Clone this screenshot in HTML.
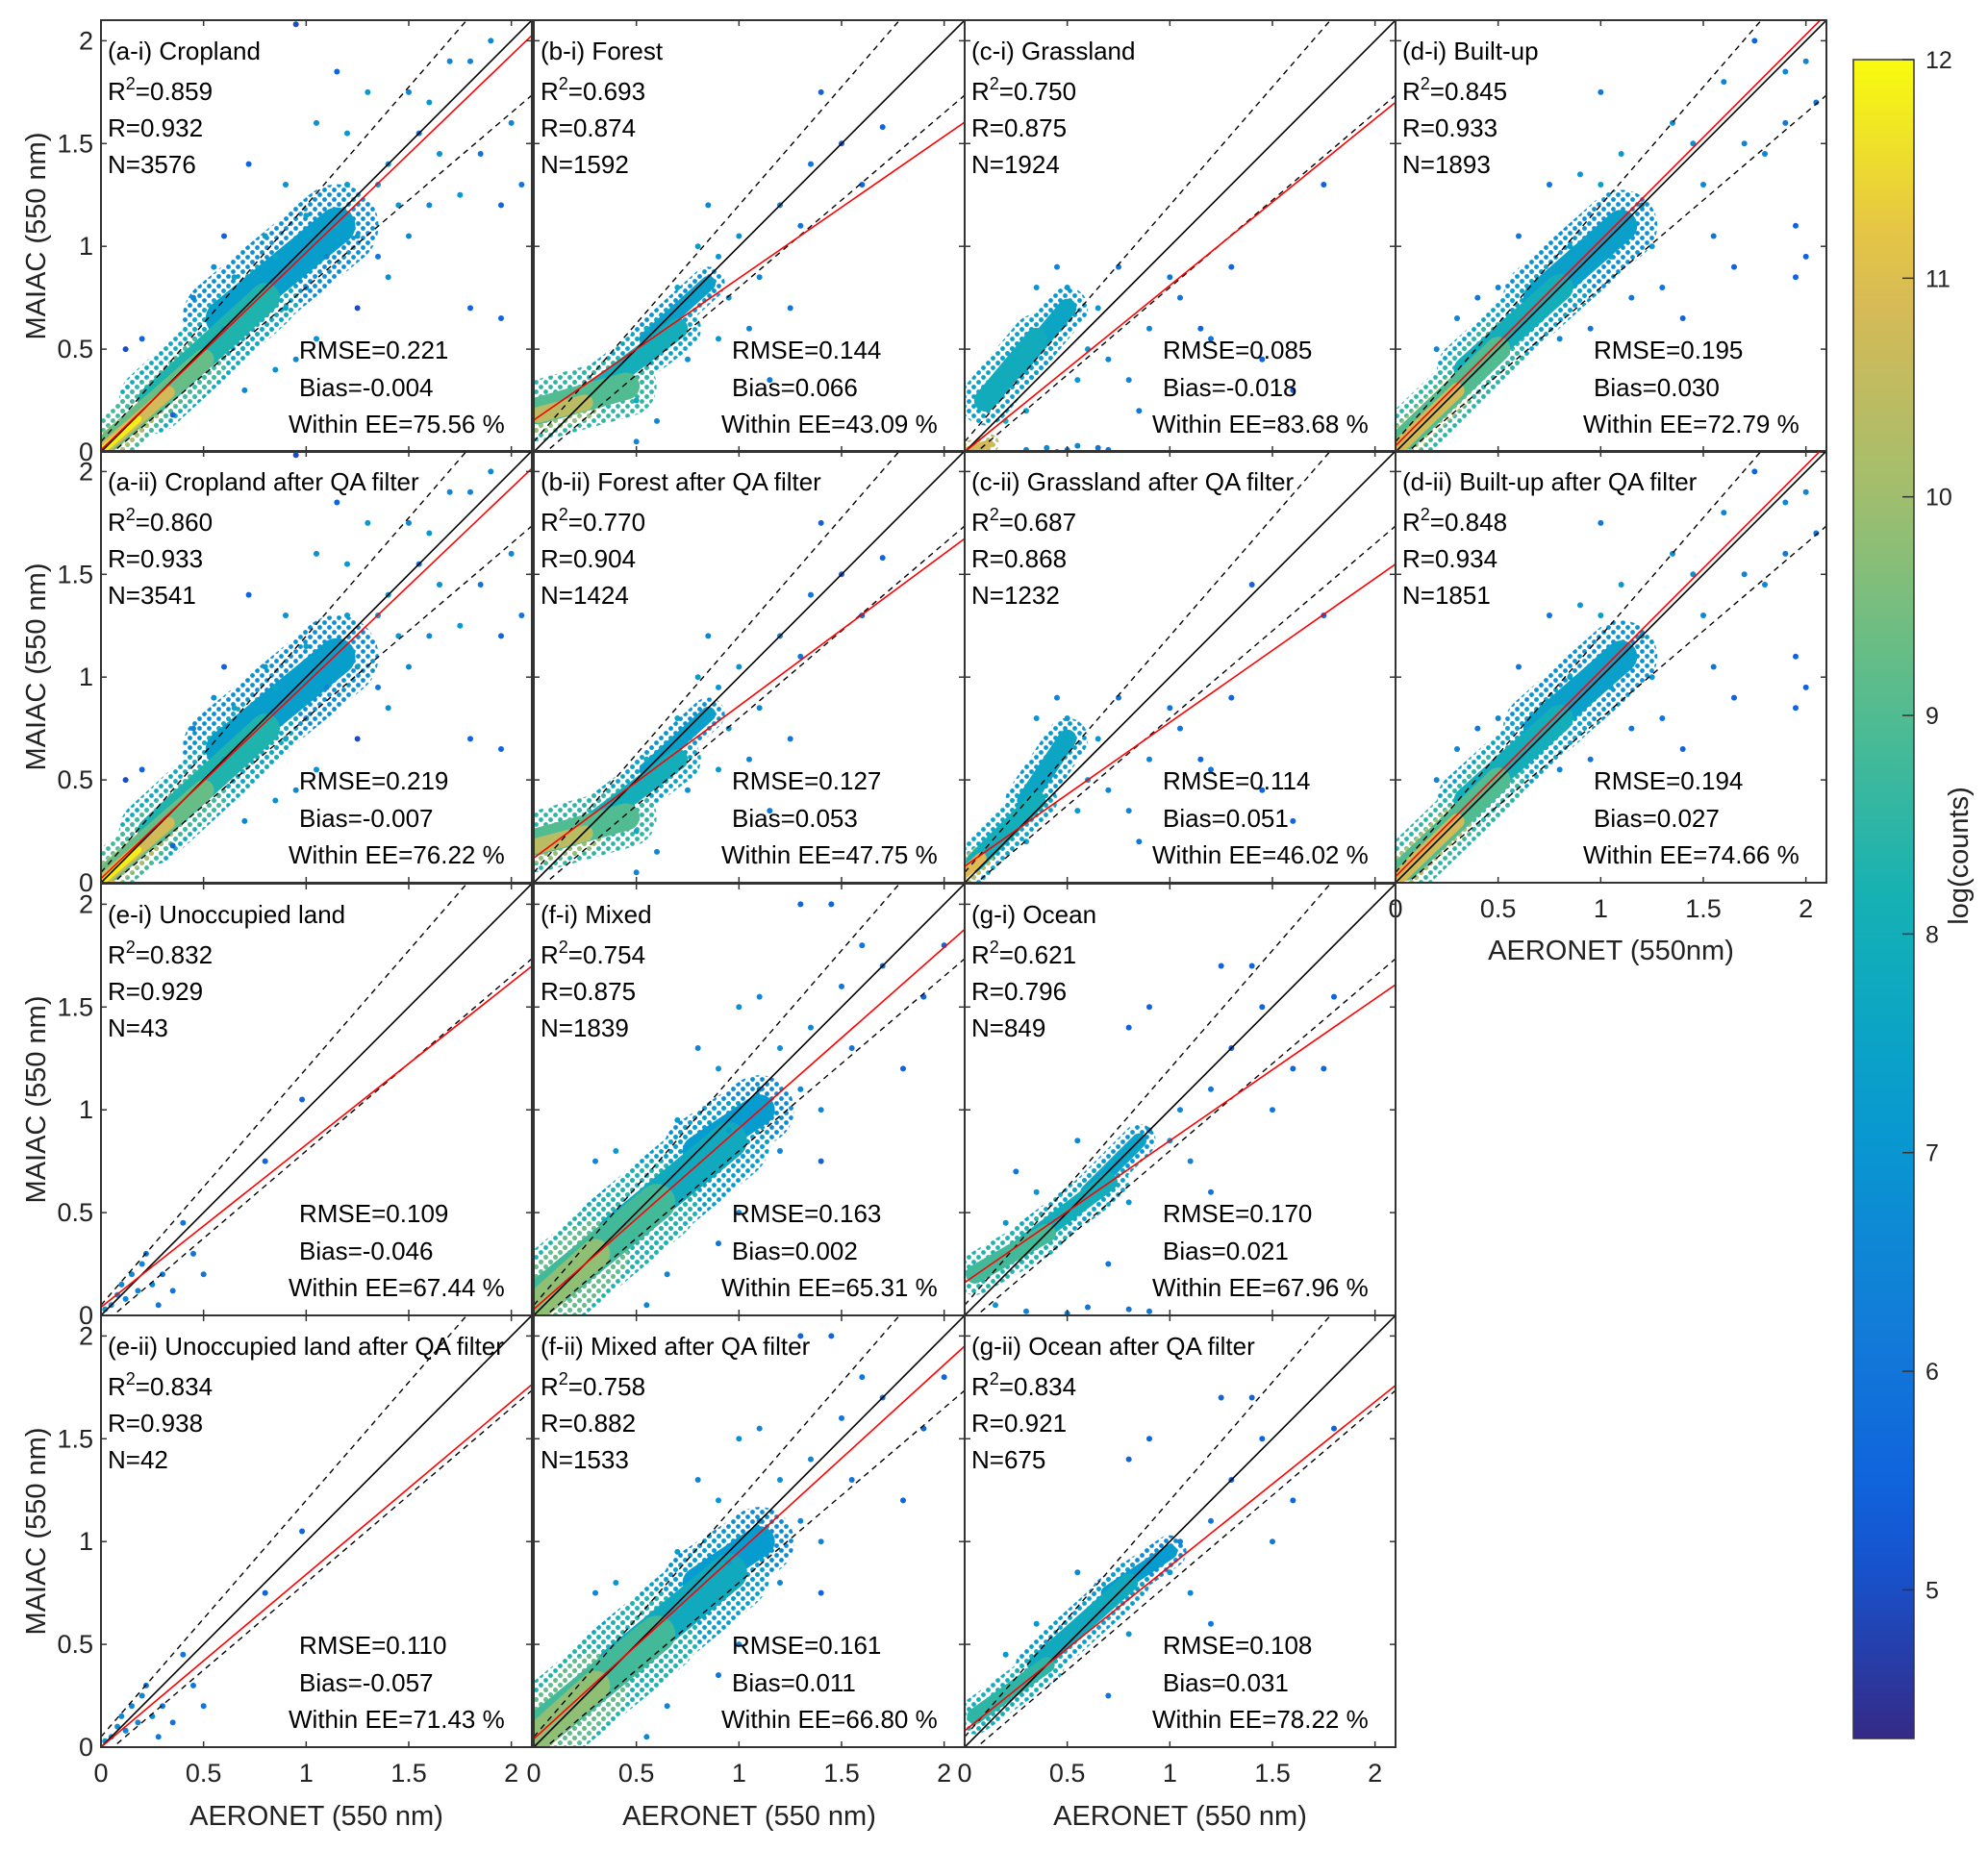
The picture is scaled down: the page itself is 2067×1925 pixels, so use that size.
<!DOCTYPE html>
<html><head><meta charset="utf-8">
<style>
html,body{margin:0;padding:0;background:#fff;}
svg{display:block;font-family:"Liberation Sans",Arial,sans-serif;}
</style></head>
<body>
<svg id="fig" width="2067" height="1925" viewBox="0 0 2067 1925" xmlns="http://www.w3.org/2000/svg"></svg>
<script>
// ---------- data ----------
const panelTitles = ["(a-i) Cropland","(b-i) Forest","(c-i) Grassland","(d-i) Built-up",
 "(a-ii) Cropland after QA filter","(b-ii) Forest after QA filter","(c-ii) Grassland after QA filter","(d-ii) Built-up after QA filter",
 "(e-i) Unoccupied land","(f-i) Mixed","(g-i) Ocean",
 "(e-ii) Unoccupied land after QA filter","(f-ii) Mixed after QA filter","(g-ii) Ocean after QA filter"];
const r2Values = ["0.859","0.693","0.750","0.845","0.860","0.770","0.687","0.848","0.832","0.754","0.621","0.834","0.758","0.834"];
const rValues = ["0.932","0.874","0.875","0.933","0.933","0.904","0.868","0.934","0.929","0.875","0.796","0.938","0.882","0.921"];
const nValues = ["3576","1592","1924","1893","3541","1424","1232","1851","43","1839","849","42","1533","675"];
const rmseValues = ["0.221","0.144","0.085","0.195","0.219","0.127","0.114","0.194","0.109","0.163","0.170","0.110","0.161","0.108"];
const biasValues = ["-0.004","0.066","-0.018","0.030","-0.007","0.053","0.051","0.027","-0.046","0.002","0.021","-0.057","0.011","0.031"];
const eeValues = ["75.56","43.09","83.68","72.79","76.22","47.75","46.02","74.66","67.44","65.31","67.96","71.43","66.80","78.22"];
const fitSlopes = [0.96,0.69,0.81,1.0,0.95,0.74,0.70,1.0,0.79,0.88,0.69,0.84,0.91,0.80];
const fitIntercepts = [0.01,0.155,0.0,0.03,0.02,0.12,0.08,0.03,0.04,0.03,0.16,0.0,0.04,0.08];
const ticks = [0,0.5,1,1.5,2];
const tickLabels = ["0","0.5","1","1.5","2"];
const cbTicks = [5,6,7,8,9,10,11,12];

// density bands [x0,y0,x1,y1,width,logcount]
const coreA = [[0.6,0.65,1.15,1.1,0.3,7.3],[0.25,0.25,0.8,0.75,0.24,8.3],[0.05,0.06,0.5,0.45,0.17,9.3],[0.03,0.03,0.33,0.29,0.1,10.8],[0.02,0.02,0.18,0.16,0.06,11.8]];
const coreB = [[0.55,0.55,0.85,0.82,0.12,7.4],[0.3,0.3,0.7,0.6,0.17,8],[0.02,0.2,0.45,0.32,0.22,9],[0.02,0.18,0.25,0.24,0.13,10.4]];
const coreC = [[0.25,0.4,0.5,0.7,0.15,7.6],[0.1,0.25,0.35,0.55,0.18,7.9],[0.0,0.0,0.12,0.04,0.07,10.8]];
const coreC2 = [[0.3,0.4,0.5,0.7,0.15,7.6],[0.05,0.1,0.35,0.4,0.15,8],[0.0,0.05,0.08,0.12,0.09,11]];
const coreD = [[0.7,0.75,1.1,1.1,0.26,7.4],[0.35,0.4,0.8,0.8,0.22,8],[0.05,0.07,0.5,0.5,0.2,9],[0.03,0.04,0.3,0.3,0.12,10.8]];
const coreE = [];
const coreF = [[0.8,0.8,1.1,1.0,0.25,7.2],[0.4,0.4,0.95,0.85,0.3,7.8],[0.05,0.1,0.6,0.55,0.3,8.8],[0.02,0.05,0.3,0.3,0.24,9.8]];
const coreG = [[0.6,0.6,0.85,0.85,0.12,7.5],[0.3,0.35,0.7,0.65,0.15,8],[0.05,0.2,0.4,0.4,0.15,8.8]];
const coreG2 = [[0.7,0.75,1.0,0.95,0.12,7.2],[0.35,0.4,0.8,0.8,0.15,7.8],[0.05,0.15,0.4,0.4,0.13,8.5]];

// scattered points [x,y,logcount]
const ptsA = [[0.95,2.08,5],[1.15,1.85,5.5],[0.72,1.4,5.5],[0.6,1.05,5.5],[1.55,1.55,6],[1.7,1.9,6.5],[1.8,1.9,6.5],[1.9,2.0,6.5],[2.0,1.6,6.5],[1.85,1.45,6],[1.95,1.2,5.5],[2.05,1.3,6],[1.6,1.2,6.5],[1.5,1.05,6.5],[1.35,0.95,6],[1.25,0.7,5],[1.1,0.95,6.5],[1.0,0.8,6.5],[0.9,1.3,6.8],[1.05,1.6,6.8],[1.3,1.75,7],[1.4,1.4,7],[1.2,1.3,7.2],[1.6,1.7,7],[1.75,1.25,7],[1.45,1.2,7.2],[0.55,0.9,6.8],[0.45,0.75,6.5],[0.2,0.55,5.5],[0.12,0.5,5],[0.7,0.3,6.5],[0.85,0.4,6.8],[1.05,0.55,6.8],[0.95,0.45,6.5],[1.4,0.85,6.8],[1.8,0.7,5.5],[1.95,0.65,5.5],[0.35,0.18,5.5],[0.6,0.6,7.5],[0.8,1.05,7.3],[1.0,1.15,7.5],[1.15,1.1,7.5],[0.65,0.85,7.5],[0.9,0.7,7.5],[1.25,1.05,7.3],[1.35,1.3,7.2],[1.65,1.45,6.8],[1.5,1.75,6.5],[1.2,1.55,7],[0.85,0.95,7.6]];
const ptsB = [[0.9,0.95,7],[1.0,1.05,6.8],[0.95,0.75,7],[1.1,0.85,6.5],[1.2,1.2,6.5],[1.3,1.1,6],[1.5,1.5,5.5],[1.7,1.58,5.5],[1.35,1.4,6],[0.85,1.2,6.5],[1.05,0.6,6.5],[1.25,0.7,6],[0.75,0.45,6.8],[0.6,0.15,6.5],[0.5,0.05,6.5],[0.8,1.0,7.2],[0.7,0.8,7.5],[0.55,0.6,7.8],[0.9,0.55,7],[1.4,1.75,5.5],[1.6,1.3,5.5],[1.15,0.35,6],[0.45,0.45,8],[0.5,0.25,7.8]];
const ptsC = [[0.3,0.01,6.5],[0.4,0.02,6.5],[0.5,0.01,6],[0.55,0.03,6.5],[0.65,0.02,6],[0.7,0.01,6],[0.45,0.0,6],[0.5,0.8,7],[0.6,0.5,7],[0.7,0.45,6.5],[0.8,0.35,6.5],[0.9,0.6,6.5],[1.0,0.85,6],[1.05,0.75,6],[1.15,0.6,5.5],[1.2,0.55,6],[0.55,0.35,7],[0.65,0.7,7],[0.75,0.9,6],[0.45,0.9,6.5],[0.35,0.8,7],[0.3,0.2,7.5],[0.2,0.15,8],[1.45,0.45,5.5],[1.6,0.3,5.5],[0.85,0.2,6],[1.3,0.9,5.5],[1.75,1.3,5.5]];
const ptsC2 = [[0.5,0.8,7],[0.6,0.5,7],[0.7,0.45,6.5],[0.8,0.35,6.5],[0.9,0.6,6.5],[1.0,0.85,6],[1.05,0.75,6],[1.15,0.6,5.5],[1.2,0.55,6],[0.55,0.35,7],[0.65,0.7,7],[0.75,0.9,6],[0.45,0.9,6.5],[0.35,0.8,7],[0.3,0.2,7.5],[1.45,0.45,5.5],[1.6,0.3,5.5],[0.85,0.2,6],[1.3,0.9,5.5],[1.75,1.3,5.5],[1.4,1.45,5.5]];
const ptsD = [[0.9,1.35,7],[1.0,1.3,7.2],[1.1,1.45,7],[1.2,1.2,7.2],[1.25,1.0,7],[1.35,1.6,6.8],[1.45,1.5,6.8],[1.5,1.3,6.5],[1.6,1.8,6.5],[1.7,1.5,6.5],[1.8,1.45,6.5],[1.9,1.85,6.5],[2.0,1.9,6.5],[2.05,1.7,6],[1.95,1.1,5.5],[1.9,1.6,6],[1.55,1.05,6],[1.3,0.8,6],[1.15,0.75,6],[0.95,0.6,6],[0.8,0.55,6.5],[0.6,1.05,6],[0.5,0.8,6.5],[0.4,0.75,6],[0.3,0.65,6.5],[0.2,0.5,6.5],[0.75,1.3,6],[1.0,1.75,6],[1.75,2.0,5.5],[1.95,0.85,5.5],[2.0,0.95,5.5],[1.4,0.65,5.5],[1.65,0.9,5.5],[0.85,1.0,7.4],[1.05,0.95,7.4]];
const ptsE = [[0.02,0.03,7],[0.05,0.05,7],[0.08,0.1,6.8],[0.1,0.15,6.5],[0.12,0.08,6.5],[0.15,0.2,6.5],[0.18,0.12,6.5],[0.2,0.25,6.5],[0.22,0.3,6],[0.25,0.15,6.5],[0.3,0.2,6],[0.35,0.12,6],[0.4,0.45,6],[0.5,0.2,6],[0.8,0.75,5.5],[0.98,1.05,5.5],[0.45,0.3,6],[0.28,0.05,6]];
const ptsF = [[1.2,1.3,6.8],[1.3,1.1,6.5],[1.35,1.4,6.5],[1.4,1.0,6.5],[1.5,1.6,6],[1.55,1.3,6],[1.6,1.8,6],[1.7,1.7,6],[1.8,1.2,5.5],[1.3,2.0,5.5],[1.1,1.55,6.5],[1.0,1.5,6.8],[0.9,1.2,7],[0.8,1.3,6.5],[1.0,0.5,6.5],[1.2,0.8,6.5],[1.4,0.75,5.5],[0.7,0.95,7.2],[0.65,0.2,6.5],[0.55,0.05,6.5],[0.9,0.35,6],[1.9,1.55,5.5],[2.0,1.8,5.5],[1.45,2.0,5.5],[0.4,0.8,7],[0.3,0.75,6.5],[1.1,1.1,7],[0.95,0.9,7.2]];
const ptsG = [[0.9,0.9,7],[1.0,0.85,7],[1.05,1.0,6.5],[1.1,0.75,6.5],[1.2,1.1,6],[1.3,1.3,5.5],[1.45,1.5,5.5],[1.5,1.0,6],[1.6,1.2,5.5],[1.75,1.2,5.5],[1.25,1.7,5.5],[1.4,1.7,5.5],[0.9,1.5,5.5],[0.8,1.4,5.5],[0.55,0.85,6.5],[0.35,0.6,7],[0.2,0.45,7],[0.15,0.05,7],[0.3,0.02,6.5],[0.5,0.01,6.5],[0.6,0.04,6],[0.8,0.03,6],[0.9,0.02,6],[0.7,0.25,6],[0.8,0.55,7],[1.2,0.6,6],[0.25,0.7,6],[1.8,1.55,5.5]];
const ptsG2 = [[0.9,0.9,7],[1.0,0.85,7],[1.05,1.0,6.5],[1.1,0.75,6.5],[1.2,1.1,6],[1.3,1.3,5.5],[1.45,1.5,5.5],[1.5,1.0,6],[1.6,1.2,5.5],[1.25,1.7,5.5],[1.4,1.7,5.5],[0.9,1.5,5.5],[0.8,1.4,5.5],[0.55,0.85,6.5],[0.35,0.6,7],[0.2,0.45,7],[0.7,0.25,6],[0.8,0.55,7],[1.2,0.6,6],[1.8,1.55,5.5]];

const panelCores = [coreA,coreB,coreC,coreD,coreA,coreB,coreC2,coreD,coreE,coreF,coreG,coreE,coreF,coreG2];
const panelPts = [ptsA,ptsB,ptsC,ptsD,ptsA,ptsB,ptsC2,ptsD,ptsE,ptsF,ptsG,ptsE,ptsF,ptsG2];

// ---------- layout ----------
const colL = [105,555,1003,1451];
const rowT = [21,469,919,1368];
const PW = 448, PH = 449, AMAX = 2.1;
const panelPos = [[0,0],[0,1],[0,2],[0,3],[1,0],[1,1],[1,2],[1,3],[2,0],[2,1],[2,2],[3,0],[3,1],[3,2]];
const CB = {x:1927, y:62, w:63, h:1746, vmin:4.32, vmax:12};

const NS = "http://www.w3.org/2000/svg";
const svg = document.getElementById('fig');
function mk(tag, attrs, parent){
  const e = document.createElementNS(NS, tag);
  for (const k in attrs) e.setAttribute(k, attrs[k]);
  (parent||svg).appendChild(e);
  return e;
}
const stops = [[0,53,42,135],[0.125,15,92,221],[0.25,18,125,216],[0.375,7,156,207],[0.5,21,177,180],[0.625,89,189,140],[0.75,165,190,107],[0.875,225,185,82],[1,249,251,14]];
function parula(v){
  let t = (v-CB.vmin)/(CB.vmax-CB.vmin); t=Math.max(0,Math.min(1,t));
  for (let i=1;i<stops.length;i++){
    if (t<=stops[i][0]){
      const a=stops[i-1], b=stops[i], f=(t-a[0])/(b[0]-a[0]);
      return `rgb(${Math.round(a[1]+f*(b[1]-a[1]))},${Math.round(a[2]+f*(b[2]-a[2]))},${Math.round(a[3]+f*(b[3]-a[3]))})`;
    }
  }
  return 'rgb(249,251,14)';
}

const defs = mk('defs',{});
let patCount = 0;
function dotPattern(color){
  const id = 'pat'+(patCount++);
  const p = mk('pattern',{id:id,patternUnits:'userSpaceOnUse',width:10,height:10},defs);
  mk('circle',{cx:2.5,cy:2.5,r:2.4,fill:color},p);
  mk('circle',{cx:7.5,cy:7.5,r:2.4,fill:color},p);
  return 'url(#'+id+')';
}

panelPos.forEach(([r,c],i)=>{
  const L=colL[c], T=rowT[r];
  const sx = v => L + v/AMAX*PW;
  const sy = v => T + PH - v/AMAX*PH;
  const cp = mk('clipPath',{id:'cp'+i},defs);
  mk('rect',{x:L,y:T,width:PW,height:PH},cp);
  const g = mk('g',{'clip-path':`url(#cp${i})`});
  
  
  // density halos (stippled)
  panelCores[i].forEach(b=>{
    const ln = mk('line',{x1:sx(b[0]),y1:sy(b[1]),x2:sx(b[2]),y2:sy(b[3]),stroke:dotPattern(parula(b[5]-0.5)),'stroke-width':b[4]/AMAX*PW*1.35,'stroke-linecap':'round'},g);
    
    
  });
  // density cores (solid)
  panelCores[i].forEach(b=>{
    const ln = mk('line',{x1:sx(b[0]),y1:sy(b[1]),x2:sx(b[2]),y2:sy(b[3]),stroke:parula(b[5]),'stroke-width':b[4]/AMAX*PW*0.6,'stroke-linecap':'round'},g);
    
    
  });
  panelPts[i].forEach(p=>{
    const ci = mk('circle',{cx:sx(p[0]),cy:sy(p[1]),r:3,fill:parula(p[2])},g);
    
    
  });
  // lines
  const one = mk('line',{x1:sx(0),y1:sy(0),x2:sx(AMAX),y2:sy(AMAX),stroke:'#000','stroke-width':1.6},g);
  
  
  const up = mk('line',{x1:sx(0),y1:sy(0.05),x2:sx(AMAX),y2:sy(0.05+1.15*AMAX),stroke:'#000','stroke-width':1.4,'stroke-dasharray':'6,5'},g);
  
  
  const lo = mk('line',{x1:sx(0),y1:sy(-0.05),x2:sx(AMAX),y2:sy(-0.05+0.85*AMAX),stroke:'#000','stroke-width':1.4,'stroke-dasharray':'6,5'},g);
  
  
  const fit = mk('line',{x1:sx(0),y1:sy(fitIntercepts[i]),x2:sx(AMAX),y2:sy(fitIntercepts[i]+fitSlopes[i]*AMAX),stroke:'#ff0000','stroke-width':1.6},g);
  
  
  // frame
  const fr = mk('rect',{x:L,y:T,width:PW,height:PH,fill:'none',stroke:'#333','stroke-width':2});
  
  
  ticks.forEach((t,k)=>{
    mk('line',{x1:sx(t),y1:T+PH,x2:sx(t),y2:T+PH-6,stroke:'#333','stroke-width':1.5});
    mk('line',{x1:sx(t),y1:T,x2:sx(t),y2:T+6,stroke:'#333','stroke-width':1.5});
    mk('line',{x1:L,y1:sy(t),x2:L+6,y2:sy(t),stroke:'#333','stroke-width':1.5});
    mk('line',{x1:L+PW,y1:sy(t),x2:L+PW-6,y2:sy(t),stroke:'#333','stroke-width':1.5});
    if (c===0){
      const yl = mk('text',{x:L-8,y:sy(t)+9,'font-size':27,'text-anchor':'end',fill:'#222'});
      yl.textContent = tickLabels[k];
      
      
    }
    if (r===3 || i===7){
      const xl = mk('text',{x:sx(t),y:T+PH+36,'font-size':27,'text-anchor':'middle',fill:'#222'});
      xl.textContent = tickLabels[k];
      
      
    }
  });
  // texts
  const fs = 26;
  const t1 = mk('text',{x:L+7,y:T+41,'font-size':fs,fill:'#000'}); t1.textContent = panelTitles[i];
  
  
  const t2 = mk('text',{x:L+7,y:T+83,'font-size':fs,fill:'#000'});
  
  
  const a1 = mk('tspan',{},t2); a1.textContent='R';
  const a2 = mk('tspan',{dy:-11,'font-size':18},t2); a2.textContent='2';
  const a3 = mk('tspan',{dy:11},t2); a3.textContent='='+r2Values[i];
  const t3 = mk('text',{x:L+7,y:T+121,'font-size':fs,fill:'#000'}); t3.textContent='R='+rValues[i];
  
  
  const t4 = mk('text',{x:L+7,y:T+159,'font-size':fs,fill:'#000'}); t4.textContent='N='+nValues[i];
  
  
  const t5 = mk('text',{x:L+206,y:T+352,'font-size':fs,fill:'#000'}); t5.textContent='RMSE='+rmseValues[i];
  
  
  const t6 = mk('text',{x:L+206,y:T+391,'font-size':fs,fill:'#000'}); t6.textContent='Bias='+biasValues[i];
  
  
  const t7 = mk('text',{x:L+195,y:T+429,'font-size':fs,fill:'#000'}); t7.textContent='Within EE='+eeValues[i]+' %';
  
  
  if (r===3){
    const xt = mk('text',{x:L+PW/2,y:T+PH+81,'font-size':29,'text-anchor':'middle',fill:'#222'});
    xt.textContent='AERONET (550 nm)';
    
    
  }
  if (i===7){
    const xt = mk('text',{x:L+PW/2,y:T+PH+80,'font-size':29,'text-anchor':'middle',fill:'#222'});
    xt.textContent='AERONET (550nm)';
    
    
  }
});
rowT.forEach(T=>{
  const yt = mk('text',{x:0,y:0,'font-size':29,'text-anchor':'middle',fill:'#222',transform:`translate(47,${T+PH/2}) rotate(-90)`});
  yt.textContent='MAIAC (550 nm)';
  
  
});
// colorbar
const lg = mk('linearGradient',{id:'cbg',x1:0,y1:1,x2:0,y2:0},defs);
for (let k=0;k<=20;k++){
  const v = CB.vmin + (CB.vmax-CB.vmin)*k/20;
  mk('stop',{offset:(k/20),'stop-color':parula(v)},lg);
}
const cb = mk('rect',{x:CB.x,y:CB.y,width:CB.w,height:CB.h,fill:'url(#cbg)',stroke:'#333','stroke-width':1.5});


cbTicks.forEach(v=>{
  const y = CB.y + (CB.vmax - v)/(CB.vmax-CB.vmin)*CB.h;
  mk('line',{x1:CB.x+CB.w-12,y1:y,x2:CB.x+CB.w,y2:y,stroke:'#333','stroke-width':1.5});
  const tl = mk('text',{x:CB.x+CB.w+12,y:y+9,'font-size':25,fill:'#222'});
  tl.textContent = String(v);
  
  
});
const cbt = mk('text',{x:0,y:0,'font-size':29,'text-anchor':'middle',fill:'#222',transform:`translate(2046,890) rotate(-90)`});
cbt.textContent='log(counts)';


</script>
</body></html>
